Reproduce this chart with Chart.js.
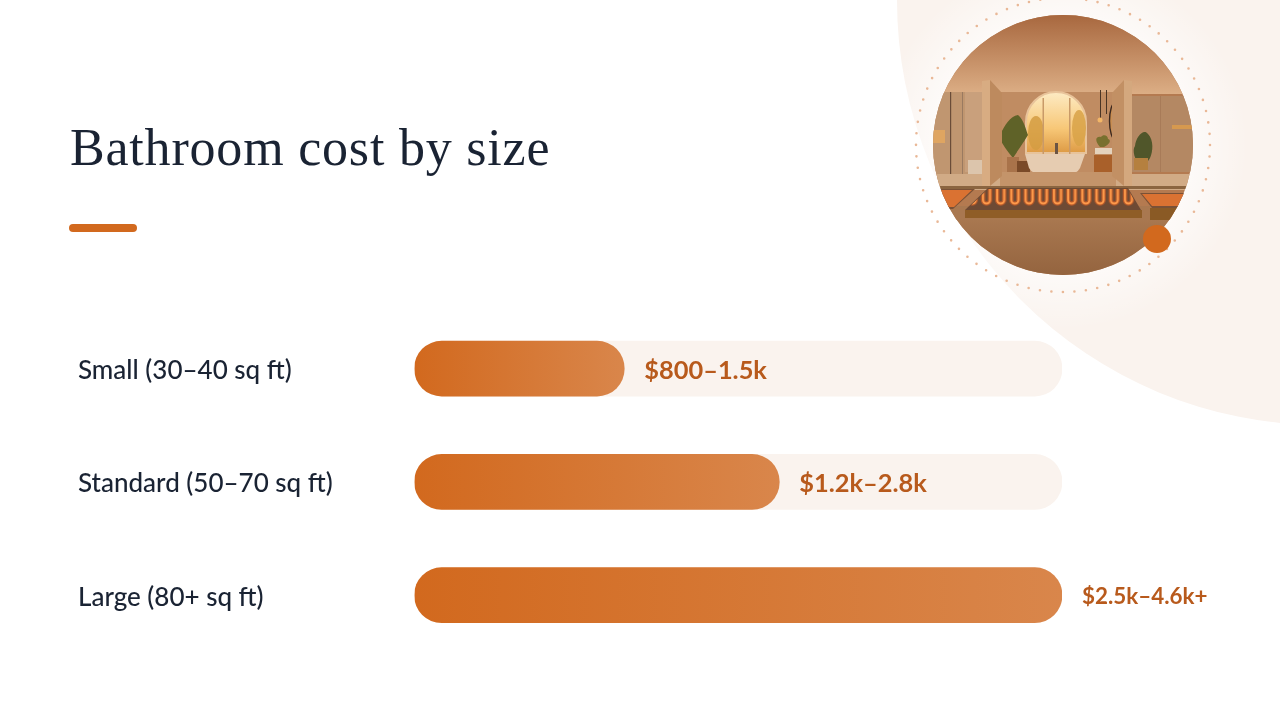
<!DOCTYPE html>
<html><head><meta charset="utf-8">
<style>
html,body{margin:0;padding:0;background:#fff;width:1280px;height:720px;overflow:hidden}
#deco{position:absolute;left:0;top:0}
#wrap{position:absolute;left:0;top:0;width:1280px;height:720px}
#title{position:absolute;left:70px;top:118px;font:400 52px "Liberation Serif",serif;letter-spacing:.8px;color:#1a2333;white-space:nowrap}
#rule{position:absolute;left:69px;top:224px;width:68px;height:8px;border-radius:4px;background:#d2691e}
</style>
<script src="https://cdn.jsdelivr.net/npm/chart.js@4"></script>
</head><body>
<svg id="deco" width="1280" height="720" viewBox="0 0 1280 720">
<defs>
<clipPath id="ph"><circle cx="1063" cy="145" r="130"/></clipPath>
<radialGradient id="halo" gradientUnits="userSpaceOnUse" cx="1063" cy="145" r="185"><stop offset=".7" stop-color="#fff" stop-opacity=".6"/><stop offset="1" stop-color="#fff" stop-opacity="0"/></radialGradient>
<linearGradient id="ceil" x1="0" y1="0" x2="0" y2="1"><stop offset="0" stop-color="#a6653c"/><stop offset="1" stop-color="#dcae85"/></linearGradient>
<linearGradient id="flr" x1="0" y1="0" x2="0" y2="1"><stop offset="0" stop-color="#a97850"/><stop offset="1" stop-color="#93633e"/></linearGradient>
<linearGradient id="win" x1="0" y1="0" x2="0" y2="1"><stop offset="0" stop-color="#fdebc4"/><stop offset=".6" stop-color="#f7c777"/><stop offset="1" stop-color="#dd9a44"/></linearGradient>
<pattern id="coil" width="14.2" height="20" patternUnits="userSpaceOnUse" x="980" y="189">
<path d="M3 0V11a3.5 3.5 0 0 0 7 0V0" fill="none" stroke="#e8601e" stroke-opacity=".55" stroke-width="4.5"/>
<path d="M3 0V11a3.5 3.5 0 0 0 7 0V0" fill="none" stroke="#ff9a4a" stroke-width="2"/>
</pattern>
</defs>
<circle cx="1322" cy="0" r="425" fill="#faf3ee"/>
<circle cx="1063" cy="145" r="185" fill="url(#halo)"/>
<circle cx="1063" cy="145" r="147" fill="none" stroke="#e9b897" stroke-width="2.6" stroke-linecap="round" stroke-dasharray="0 11.545"/>
<g clip-path="url(#ph)">
<rect x="930" y="10" width="266" height="270" fill="#b47a50"/>
<rect x="930" y="12" width="266" height="82" fill="url(#ceil)"/>
<rect x="930" y="92" width="56" height="90" fill="#c09670"/>
<rect x="965" y="92" width="18" height="80" fill="#c9a07c"/>
<rect x="950" y="92" width="1.2" height="85" fill="#6a4c38"/>
<rect x="962" y="92" width="1" height="85" fill="#9a7a60"/>
<rect x="933" y="130" width="12" height="13" fill="#dfa561"/>
<rect x="968" y="160" width="14" height="14" fill="#dcc5ac"/>
<rect x="1132" y="96" width="64" height="76" fill="#b48863"/>
<rect x="1160" y="96" width="1" height="76" fill="#a87b58"/>
<rect x="1172" y="125" width="20" height="4" fill="#d6994f"/>
<rect x="1000" y="92" width="116" height="84" fill="#c08c62"/>
<path d="M1026 153V122a30 30 0 0 1 60 0V153Z" fill="url(#win)" stroke="#e8c39a" stroke-width="2"/>
<ellipse cx="1036" cy="133" rx="8" ry="17" fill="#d49c42" opacity=".85"/>
<ellipse cx="1079" cy="128" rx="7" ry="18" fill="#d8a248" opacity=".85"/>
<rect x="1042.5" y="98" width="1.5" height="56" fill="#c99a68"/><rect x="1069" y="98" width="1.5" height="56" fill="#c99a68"/>
<path d="M1013 158C1003 146 998 137 1000 135C1005 125 1010 116 1018 115C1024 120 1026 130 1028 135C1022 145 1018 150 1013 158Z" fill="#5f6228"/>
<rect x="1007" y="157" width="12" height="15" fill="#a9734a"/>
<rect x="1017" y="161" width="13" height="14" fill="#7a4a28"/>
<path d="M1025 154H1085L1080 168Q1077 174 1068 174H1042Q1032 174 1029 168Z" fill="#e6ccb1"/>
<rect x="1055" y="143" width="3" height="11" fill="#6b5444"/>
<rect x="1094" y="155" width="27" height="17" fill="#a9602a"/>
<rect x="1095" y="148" width="18" height="6" fill="#e4d2bc"/>
<path d="M1100 147C1094 140 1096 136 1101 137C1103 134 1108 135 1108 139C1112 140 1109 145 1104 147Z" fill="#78702e"/>
<ellipse cx="1115" cy="121" rx="5.5" ry="18" fill="#c98e52" stroke="#3e2a20" stroke-width="1.4"/>
<rect x="1100" y="90" width="1" height="28" fill="#4a3424"/><circle cx="1100" cy="120" r="2.5" fill="#f3b667"/>
<rect x="1106" y="90" width="1" height="24" fill="#4a3424"/>
<rect x="930" y="174" width="266" height="16" fill="#d1ab86"/>
<rect x="1000" y="172" width="116" height="14" fill="#c4946a"/>
<path d="M982 81L990 80V186L982 188Z" fill="#d8ac82"/>
<path d="M990 80L1002 93V176L990 186Z" fill="#bd8a5e"/>
<path d="M1132 81L1124 80V186L1132 188Z" fill="#d4a87e"/>
<path d="M1124 80L1112 93V176L1124 186Z" fill="#c29064"/>
<path d="M1142 168C1134 160 1132 150 1135 146C1136 136 1144 128 1148 134C1154 140 1153 152 1150 158Q1147 164 1142 168Z" fill="#50562a"/>
<rect x="1134" y="158" width="14" height="12" fill="#b5803f"/>
<rect x="930" y="186" width="266" height="3" fill="#8b6540"/>
<rect x="930" y="218" width="266" height="60" fill="url(#flr)"/>
<rect x="930" y="206" width="266" height="14" fill="#a97850"/>
<path d="M930 189H975L953 209H930Z" fill="#7a5136"/>
<path d="M1140 193H1196V208H1152Z" fill="#7a5136"/>
<path d="M930 190H972L954 207H930Z" fill="#f27a32" opacity=".8"/>
<path d="M1142 194H1196V206H1152Z" fill="#f27a32" opacity=".8"/>
<rect x="1150" y="208" width="50" height="12" fill="#8a5a25"/>
<path d="M988 188H1128L1141 210H965Z" fill="#6e4a34"/>
<path d="M988 189H1128L1139 209H967Z" fill="url(#coil)"/>
<path d="M965 210H1142V218H965Z" fill="#8f5d27"/>
</g>
<circle cx="1157" cy="239" r="14" fill="#d2691e"/>
</svg>
<div id="title">Bathroom cost by size</div>
<div id="rule"></div>
<div id="wrap"><canvas id="c" width="1280" height="720"></canvas></div>
<script>
const categories = ["Small (30–40 sq ft)", "Standard (50–70 sq ft)", "Large (80+ sq ft)"];
const midpoints = [1150, 2000, 3550];
const trackValues = [3550, 3550, 3550];
const valueLabels = ["$800–1.5k", "$1.2k–2.8k", "$2.5k–4.6k+"];

const FONT = '"Lato","Noto Sans",sans-serif';
const endLabels = {
  id: 'endLabels',
  afterDatasetsDraw(chart) {
    const { ctx, scales: { x }, chartArea } = chart;
    const meta = chart.getDatasetMeta(1);
    ctx.save();
    ctx.fillStyle = '#b85a1c';
    ctx.textBaseline = 'middle';
    ctx.textAlign = 'left';
    meta.data.forEach((bar, i) => {
      const px = x.getPixelForValue(midpoints[i]);
      const fullWidth = px >= chartArea.right - 1;
      ctx.font = '700 ' + (fullWidth ? 22.4 : 25.4) + 'px ' + FONT;
      ctx.fillText(valueLabels[i], px + 20, bar.y + 2);
    });
    ctx.restore();
  }
};
const grad = (c) => {
  const { chart, dataIndex } = c;
  const x = chart.scales.x;
  if (!x || !chart.chartArea) return '#d2691e';
  const g = chart.ctx.createLinearGradient(x.getPixelForValue(0), 0, x.getPixelForValue(midpoints[dataIndex]), 0);
  g.addColorStop(0, '#d2691e');
  g.addColorStop(1, '#d9864b');
  return g;
};
new Chart(document.getElementById('c'), {
  type: 'bar',
  data: {
    labels: categories,
    datasets: [
      { data: trackValues, backgroundColor: '#faf3ee', borderRadius: 27.5, borderSkipped: false, barThickness: 55, order: 2 },
      { data: midpoints, backgroundColor: grad, borderRadius: 27.5, borderSkipped: false, barThickness: 55, order: 1 }
    ]
  },
  options: {
    indexAxis: 'y', responsive: false, animation: false, events: [],
    layout: { padding: { left: 78, right: 218, top: 312, bottom: 68.2 } },
    plugins: { legend: { display: false }, tooltip: { enabled: false }, title: { display: false } },
    scales: {
      x: { display: false, min: 0, max: 3550, stacked: false },
      y: {
        stacked: true,
        grid: { display: false }, border: { display: false },
        afterFit(s) { s.width = 336.5; },
        ticks: { crossAlign: 'far', color: '#1a2333', font: { family: FONT, size: 26, weight: '500' }, padding: 0, labelOffset: 2 }
      }
    }
  },
  plugins: [endLabels]
});
</script>
</body></html>
